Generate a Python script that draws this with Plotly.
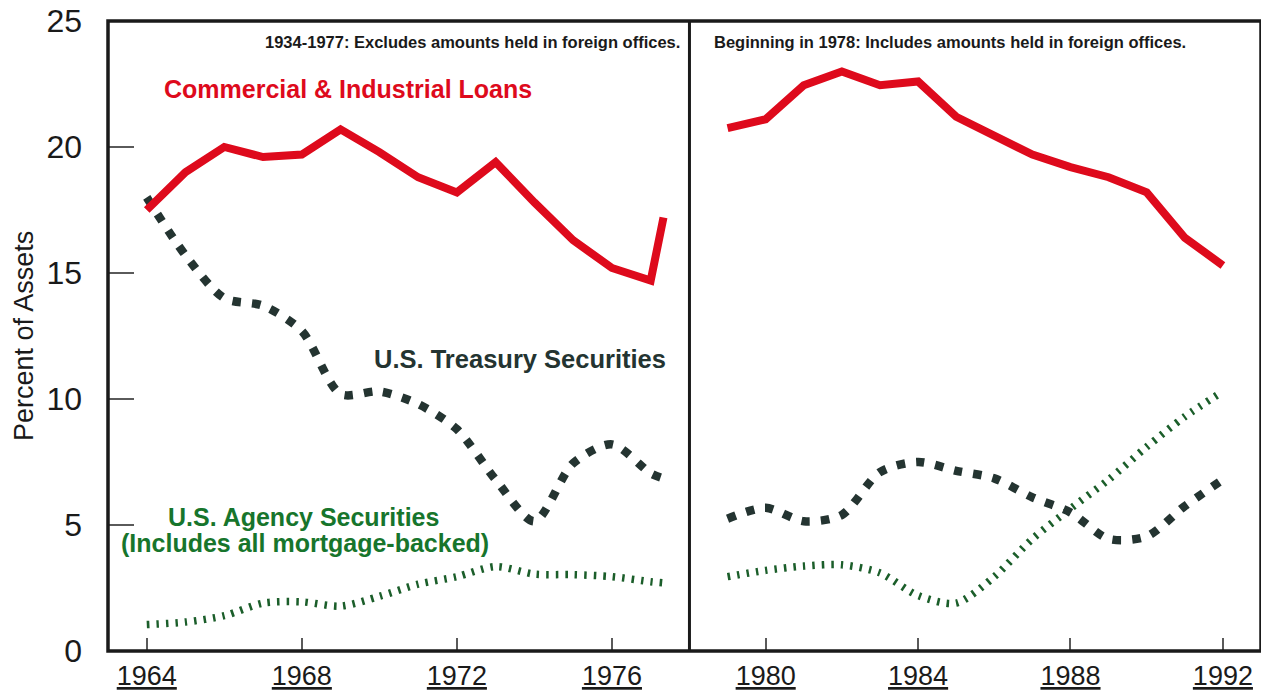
import plotly.graph_objects as go

# ---- data ----
years_left = [1964, 1965, 1966, 1967, 1968, 1969, 1970, 1971, 1972, 1973, 1974, 1975, 1976, 1977, 1977.33]
ci_loans_left = [17.5, 19.0, 20.0, 19.6, 19.7, 20.7, 19.8, 18.8, 18.2, 19.4, 17.8, 16.3, 15.2, 14.7, 17.2]
treasury_left = [18.0, 15.7, 14.0, 13.7, 12.7, 10.2, 10.3, 9.8, 8.8, 6.8, 5.15, 7.45, 8.2, 7.05, 6.85]
agency_left = [1.05, 1.15, 1.4, 1.9, 1.95, 1.78, 2.17, 2.65, 2.95, 3.35, 3.05, 3.03, 2.95, 2.75, 2.7]

years_right = [1979, 1980, 1981, 1982, 1983, 1984, 1985, 1986, 1987, 1988, 1989, 1990, 1991, 1992]
ci_loans_right = [20.75, 21.1, 22.45, 23.0, 22.45, 22.6, 21.2, 20.45, 19.7, 19.2, 18.8, 18.2, 16.4, 15.3]
treasury_right = [5.25, 5.68, 5.15, 5.4, 7.1, 7.5, 7.15, 6.85, 6.1, 5.5, 4.45, 4.55, 5.75, 6.8]
agency_right = [2.95, 3.2, 3.37, 3.42, 3.1, 2.2, 1.9, 2.95, 4.45, 5.65, 6.8, 8.1, 9.3, 10.3]

x_ticks_left = [1964, 1968, 1972, 1976]
x_ticks_right = [1980, 1984, 1988, 1992]
x_ticktext_left = ["<u>1964</u>", "<u>1968</u>", "<u>1972</u>", "<u>1976</u>"]
x_ticktext_right = ["<u>1980</u>", "<u>1984</u>", "<u>1988</u>", "<u>1992</u>"]
y_ticks = [0, 5, 10, 15, 20, 25]
y_ticktext = ["0", "5", "10", "15", "20", "25"]

RED = "#de0a1c"
DARK = "#243431"
GREEN_LINE = "#1b5e2a"
GREEN_TEXT = "#17752c"
FONT = "Liberation Sans, Arial, Helvetica, sans-serif"

fig = go.Figure()

for xa, yrs, ci, tr, ag in [("x", years_left, ci_loans_left, treasury_left, agency_left),
                            ("x2", years_right, ci_loans_right, treasury_right, agency_right)]:
    fig.add_trace(go.Scatter(x=yrs, y=ag, xaxis=xa, yaxis="y", mode="lines",
                             line=dict(color=GREEN_LINE, width=7.5, dash="2.5px,7px",
                                       shape="spline", smoothing=0.8),
                             showlegend=False, hoverinfo="skip"))
    fig.add_trace(go.Scatter(x=yrs, y=tr, xaxis=xa, yaxis="y", mode="lines",
                             line=dict(color=DARK, width=8.5, dash="8.5px,11px",
                                       shape="spline", smoothing=0.8),
                             showlegend=False, hoverinfo="skip"))
    fig.add_trace(go.Scatter(x=yrs, y=ci, xaxis=xa, yaxis="y", mode="lines",
                             line=dict(color=RED, width=8),
                             showlegend=False, hoverinfo="skip"))

SPLIT = 0.5043

axis_common = dict(showgrid=False, zeroline=False, showline=False, ticks="inside",
                   tickcolor="#5a5a5a", tickwidth=1.5, fixedrange=True, automargin=False,
                   ticklabeloverflow="allow")

# the page body adds an 8px offset, so the figure is sized to fill the window
fig.update_layout(
    width=1261, height=684,
    margin=dict(l=100, r=8, t=13, b=40.5, autoexpand=False),
    paper_bgcolor="white", plot_bgcolor="white",
    font=dict(family=FONT, color="#1a1a1a"),
    xaxis=dict(domain=[0, SPLIT], range=[1963, 1978], anchor="y",
               tickvals=x_ticks_left, ticktext=x_ticktext_left, ticklen=13,
               tickfont=dict(size=27, color="#1a1a1a"), ticklabelstandoff=6,
               **axis_common),
    xaxis2=dict(domain=[SPLIT, 1], range=[1978, 1993], anchor="y",
                tickvals=x_ticks_right, ticktext=x_ticktext_right, ticklen=13,
                tickfont=dict(size=27, color="#1a1a1a"), ticklabelstandoff=6,
                **axis_common),
    yaxis=dict(domain=[0, 1], range=[0, 25], anchor="x",
               tickvals=y_ticks, ticktext=y_ticktext, ticklen=26,
               tickfont=dict(size=32, color="#1a1a1a"), ticklabelstandoff=25,
               **axis_common),
    shapes=[
        dict(type="rect", xref="paper", yref="paper", x0=0, x1=1, y0=0, y1=1,
             line=dict(color="#1a1a1a", width=3.5), layer="above"),
        dict(type="line", xref="paper", yref="paper", x0=SPLIT, x1=SPLIT, y0=0, y1=1,
             line=dict(color="#1a1a1a", width=3), layer="above"),
    ],
)

annotations = [
    dict(text="<b>1934-1977: Excludes amounts held in foreign offices.</b>",
         xref="x", yref="y", x=1977.8, y=24.15, xanchor="right", yanchor="middle",
         font=dict(size=16.5, color="#1a1a1a"), showarrow=False),
    dict(text="<b>Beginning in 1978: Includes amounts held in foreign offices.</b>",
         xref="x2", yref="y", x=1978.59, y=24.15, xanchor="left", yanchor="middle",
         font=dict(size=16.5, color="#1a1a1a"), showarrow=False),
    dict(text="<b>Commercial & Industrial Loans</b>",
         xref="x", yref="y", x=1964.4, y=22.3, xanchor="left", yanchor="middle",
         font=dict(size=25, color=RED), showarrow=False),
    dict(text="<b>U.S. Treasury Securities</b>",
         xref="x", yref="y", x=1969.81, y=11.6, xanchor="left", yanchor="middle",
         font=dict(size=25.5, color=DARK), showarrow=False),
    dict(text="<b>U.S. Agency Securities</b>",
         xref="x", yref="y", x=1968.04, y=5.3, xanchor="center", yanchor="middle",
         font=dict(size=25, color=GREEN_TEXT), showarrow=False),
    dict(text="<b>(Includes all mortgage-backed)</b>",
         xref="x", yref="y", x=1968.07, y=4.28, xanchor="center", yanchor="middle",
         font=dict(size=25, color=GREEN_TEXT), showarrow=False),
    dict(text="Percent of Assets", textangle=-90,
         xref="paper", yref="paper", x=-0.0729, y=0.5, xanchor="center", yanchor="middle",
         font=dict(size=27, color="#1a1a1a"), showarrow=False),
]
fig.update_layout(annotations=annotations)

fig.write_html("out.html")
